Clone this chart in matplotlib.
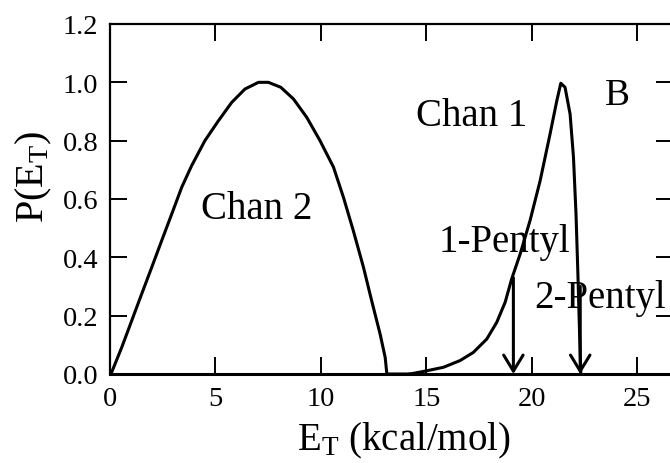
import matplotlib
matplotlib.use("Agg")
import matplotlib.pyplot as plt

plt.rcParams['font.family'] = ['Liberation Serif', 'DejaVu Serif']
plt.rcParams['mathtext.fontset'] = 'custom'
plt.rcParams['mathtext.rm'] = 'Liberation Serif'

# translational energy distributions, normalised to peak = 1
chan2_e = [0.0, 0.08, 0.55, 1.03, 1.5, 1.98, 2.45, 2.93, 3.4, 3.87, 4.5, 5.14,
           5.77, 6.4, 7.04, 7.51, 8.1, 8.7, 9.33, 9.96, 10.6, 11.07, 11.54,
           12.02, 12.41, 12.81, 13.05, 13.13, 14.23]
chan2_p = [0.0, 0.006, 0.09, 0.183, 0.274, 0.366, 0.457, 0.549, 0.64, 0.714,
           0.8, 0.868, 0.931, 0.977, 1.0, 1.0, 0.983, 0.943, 0.88, 0.8, 0.709,
           0.606, 0.491, 0.366, 0.251, 0.137, 0.057, 0.0, 0.0]

chan1_e = [14.23, 15.02, 15.81, 16.6, 17.23, 17.87, 18.34, 18.74, 19.05, 19.45,
           19.92, 20.4, 20.87, 21.19, 21.38, 21.58, 21.82, 21.98, 22.1, 22.19,
           22.27, 22.33]
chan1_p = [0.0, 0.011, 0.023, 0.046, 0.074, 0.12, 0.177, 0.246, 0.326, 0.411,
           0.526, 0.663, 0.823, 0.937, 0.997, 0.983, 0.891, 0.743, 0.549, 0.343,
           0.137, 0.0]

# available energy limits for the two radical products
limit_names = ["1-Pentyl", "2-Pentyl"]
limit_e = [19.13, 22.3]
limit_top = [0.33, 0.30]

fig = plt.figure(figsize=(6.7, 4.64), dpi=100)
ax = fig.add_axes([110 / 670, 89 / 464, 563 / 670, 350 / 464])

ax.plot(chan2_e, chan2_p, color="black", lw=2.2, solid_joinstyle="round")
ax.plot(chan1_e, chan1_p, color="black", lw=2.2, solid_joinstyle="round")

for e, top in zip(limit_e, limit_top):
    ax.annotate("", xy=(e, 0.0), xytext=(e, top),
                arrowprops=dict(arrowstyle="->,head_length=1.15,head_width=0.7",
                                color="black", lw=2.2, shrinkA=0, shrinkB=0))

ax.text(4.3, 0.535, "Chan 2", fontsize=28)
ax.text(14.5, 0.853, "Chan 1", fontsize=28)
ax.text(23.45, 0.926, "B", fontsize=27)
ax.text(15.6, 0.42, limit_names[0], fontsize=28)
ax.text(20.1, 0.23, limit_names[1], fontsize=28)

ax.set_xlim(0, 26.7)
ax.set_ylim(0, 1.2)
ax.set_xticks([0, 5, 10, 15, 20, 25])
ax.set_yticks([0.0, 0.2, 0.4, 0.6, 0.8, 1.0, 1.2])
ax.set_yticklabels(["0.0", "0.2", "0.4", "0.6", "0.8", "1.0", "1.2"])
ax.tick_params(direction="in", top=True, right=True, length=12, width=1.4,
               labelsize=20.5, pad=8.5)
for s in ax.spines.values():
    s.set_linewidth(1.6)
ax.spines["bottom"].set_linewidth(2.2)

ax.set_xlabel(r"$\mathrm{E_T}$ (kcal/mol)", fontsize=28)
ax.set_ylabel(r"$\mathrm{P(E_T)}$", fontsize=29)
ax.xaxis.set_label_coords(0.522, -0.132)
ax.yaxis.set_label_coords(-0.099, 0.566)

fig.savefig("out.png", dpi=100)
